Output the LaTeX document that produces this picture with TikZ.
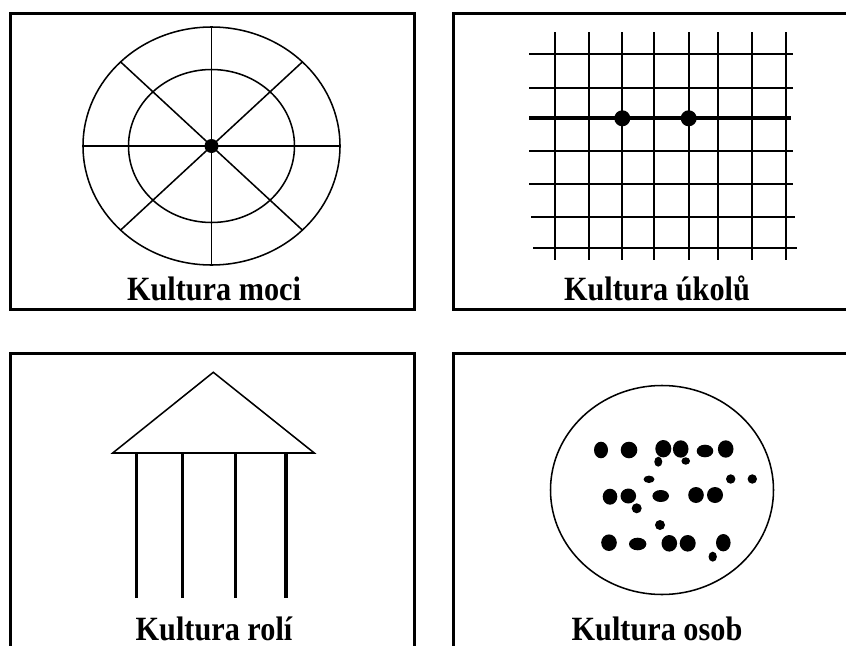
\documentclass[tikz,border=0pt]{standalone}
\usepackage{fontspec}
\setmainfont{Liberation Serif}
\begin{document}
\begin{tikzpicture}[x=0.75pt,y=-0.75pt,
  frame/.style={line width=2.6pt, line cap=rect},
  thinline/.style={line width=1.15pt},
  gridline/.style={line width=1.6pt},
  thickline/.style={line width=2.8pt},
  column/.style={line width=2.6pt},
  label/.style={anchor=base, inner sep=0pt, xscale=0.89,
    font=\fontsize{25.5}{29}\selectfont\bfseries}]
\useasboundingbox (0,0) rectangle (846,646);
\clip (0,0) rectangle (846,646);
\fill[white] (0,0) rectangle (846,646);

% frames
\draw[frame] (10.3,13.3) rectangle (414.3,309.5);
\draw[frame] (870,13.3) -- (453.5,13.3) -- (453.5,309.5) -- (870,309.5);
\draw[frame] (414.3,670) -- (414.3,353.5) -- (10.3,353.5) -- (10.3,670);
\draw[frame] (870,353.5) -- (453.5,353.5) -- (453.5,670);

% Panel 1: power culture
\coordinate (pc) at (211.5,146);
\draw[thinline] (pc) ellipse [x radius=128.5, y radius=119];
\draw[thinline] (pc) ellipse [x radius=83, y radius=76.5];
\draw[thinline] (211.5,27) -- (211.5,265);
\draw[thinline] (83,146) -- (340,146);
\draw[thinline] (120.6,61.9) -- (302.4,230.1);
\draw[thinline] (302.4,61.9) -- (120.6,230.1);
\fill (pc) circle [radius=7];
\node[label] (l1) at (214,300) {Kultura moci};

% Panel 2: task culture
\foreach \x in {555.3,588.7,622.3,653.7,689,718.3,752.3,786.3}
  \draw[gridline] (\x,32) -- (\x,260);
\foreach \y in {54.3,88.3,151,184.3}
  \draw[gridline] (529,\y) -- (793,\y);
\draw[gridline] (531,216.7) -- (795,216.7);
\draw[gridline] (533,247.7) -- (797,247.7);
\draw[thickline] (529,118.3) -- (791,118.3);
\fill (622.3,118.3) circle [radius=8];
\fill (688.7,118.3) circle [radius=8];
\node[label] (l2) at (657,300) {Kultura úkolů};

% Panel 3: role culture
\draw[thinline, line join=miter] (112.7,453) -- (213.3,372.3) -- (314.3,453) -- cycle;
\foreach \x in {136.7,182.7,235.7,286}
  \draw[column] (\x,453) -- (\x,598);
\node[label] (l3) at (214,640) {Kultura rolí};

% Panel 4: person culture
\draw[thinline] (662,490) ellipse [x radius=111.5, y radius=104.5];
\foreach \cx/\cy/\rx/\ry in {
  601/450/7/8.3, 629/450/8.3/8.3, 663.3/448.7/8/8.7, 680.7/449/7.8/8.7,
  705/451/8.3/6.3, 725.7/449/7.8/8.7,
  658.3/461.7/4/5, 685.7/461/4.3/3.7, 649/479.3/5.5/3.7,
  730.7/479/4.7/4.7, 752.3/479/4.7/4.7,
  610/496.7/7.3/8, 628.3/496/7.8/7.5, 636.7/508.3/5/5,
  660.7/496/8.3/6, 696/495/7.8/8, 715/495/8/8, 660/525/5/5,
  609/542.7/7.8/8.3, 637.7/544/8.7/6.3, 669.3/543.3/7.8/8.3,
  687.7/543.3/8/8.3, 723.3/542.7/7.3/8.7, 712.7/556.7/4.2/5}
  \fill (\cx,\cy) ellipse [x radius=\rx, y radius=\ry];
\node[label] (l4) at (657,640) {Kultura osob};
\end{tikzpicture}
\end{document}
